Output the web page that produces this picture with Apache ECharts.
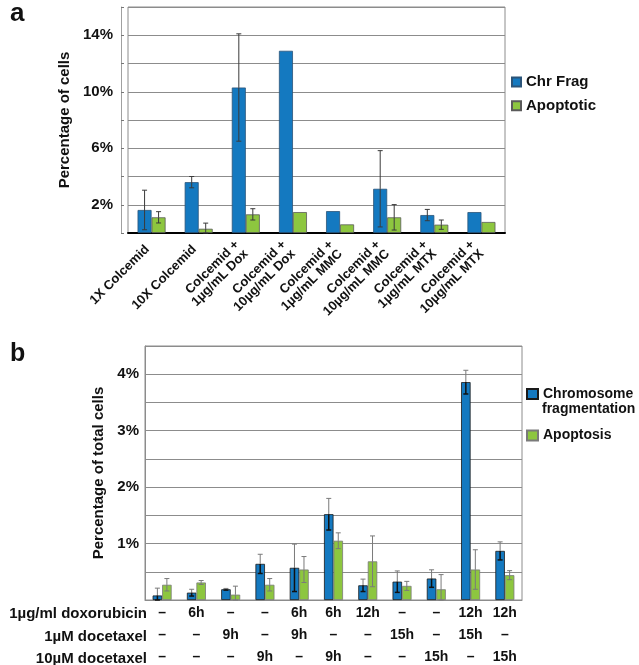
<!DOCTYPE html>
<html>
<head>
<meta charset="utf-8">
<script src="https://cdn.jsdelivr.net/npm/echarts@6/dist/echarts.min.js"></script>
<style>html,body{margin:0;padding:0;background:#fff;}#c{width:639px;height:665px;}</style>
</head>
<body>
<div id="c"></div>
<script>
// ---- Panel a data ----
const catsA = ['1X Colcemid', '10X Colcemid', 'Colcemid +\n1µg/mL Dox', 'Colcemid +\n10µg/mL Dox',
  'Colcemid +\n1µg/mL MMC', 'Colcemid +\n10µg/mL MMC', 'Colcemid +\n1µg/mL MTX', 'Colcemid +\n10µg/mL MTX'];
const chrFrag = [1.63, 3.6, 10.3, 12.9, 1.55, 3.13, 1.27, 1.48];
const chrFragErr = [1.4, 0.4, 3.8, 0, 0, 2.7, 0.4, 0];
const apoptotic = [1.11, 0.3, 1.32, 1.48, 0.61, 1.11, 0.59, 0.78];
const apoptoticErr = [0.4, 0.4, 0.4, 0, 0, 0.9, 0.33, 0];

// ---- Panel b data ----
const doxRow = ['–', '6h', '–', '–', '6h', '6h', '12h', '–', '–', '12h', '12h'];
const doc1Row = ['–', '–', '9h', '–', '9h', '–', '–', '15h', '–', '15h', '–'];
const doc10Row = ['–', '–', '–', '9h', '–', '9h', '–', '–', '15h', '–', '15h'];
const rowLabels = ['1µg/ml doxorubicin', '1µM docetaxel', '10µM docetaxel'];
const chromFrag = [0.08, 0.13, 0.19, 0.64, 0.57, 1.52, 0.26, 0.325, 0.38, 3.86, 0.87];
const chromFragErr = [0.13, 0.06, 0.015, 0.17, 0.42, 0.28, 0.11, 0.19, 0.155, 0.21, 0.16];
const apoptosis = [0.27, 0.31, 0.095, 0.27, 0.54, 1.05, 0.685, 0.25, 0.19, 0.54, 0.44];
const apoptosisErr = [0.11, 0.035, 0.15, 0.11, 0.23, 0.14, 0.45, 0.08, 0.26, 0.35, 0.08];

const FONT = 'Liberation Sans, Arial, sans-serif';
const BLUE = '#1479c0', GREEN = '#8dc63f';
const catsB = doxRow.map((d, i) => String(i));

function errSeries(xi, yi, vals, errs, off, capHalf, upperStyle, lowerStyle) {
  return {
    type: 'custom', xAxisIndex: xi, yAxisIndex: yi, z: 10, silent: true,
    encode: { x: 0, y: 1 },
    data: vals.map((v, i) => [i, v, errs[i]]),
    renderItem: function (params, api) {
      const i = api.value(0), v = api.value(1), e = api.value(2);
      if (!(e > 0)) return null;
      const c = api.coord([i, v]);
      const t = api.coord([i, v + e]);
      const b = api.coord([i, Math.max(0, v - e)]);
      const x = c[0] + off;
      return {
        type: 'group',
        children: [
          { type: 'line', shape: { x1: x, y1: t[1], x2: x, y2: c[1] }, style: upperStyle },
          { type: 'line', shape: { x1: x - capHalf, y1: t[1], x2: x + capHalf, y2: t[1] }, style: upperStyle },
          { type: 'line', shape: { x1: x, y1: c[1], x2: x, y2: b[1] }, style: lowerStyle },
          { type: 'line', shape: { x1: x - capHalf, y1: b[1], x2: x + capHalf, y2: b[1] }, style: lowerStyle }
        ]
      };
    }
  };
}

const chart = echarts.init(document.getElementById('c'), null, { renderer: 'canvas' });
const darkA = { stroke: '#3a3a3a', lineWidth: 1 };
const grayB = { stroke: '#7a7a7a', lineWidth: 1 };
const blackB = { stroke: '#111', lineWidth: 1.5 };

const option = {
  backgroundColor: '#fff',
  animation: false,
  textStyle: { fontFamily: FONT },
  grid: [
    { left: 128, right: 134, top: 7, bottom: 432, show: true, borderColor: '#8c8c8c', borderWidth: 1,
      containLabel: false, outerBoundsMode: 'none' },
    { left: 145, right: 117, top: 346, bottom: 65, show: true, borderColor: '#8c8c8c', borderWidth: 1,
      containLabel: false, outerBoundsMode: 'none' }
  ],
  legend: [
    { data: ['Chr Frag', 'Apoptotic'], orient: 'vertical', left: 511, top: 74.5, padding: 0,
      itemWidth: 9, itemHeight: 9, itemGap: 8.8, icon: 'rect',
      textStyle: { fontFamily: FONT, fontWeight: 'bold', fontSize: 15, color: '#111' } },
    { data: ['Chromosome fragmentation'], orient: 'vertical', left: 526, top: 387, padding: 0,
      itemWidth: 11, itemHeight: 10, icon: 'rect',
      formatter: () => 'Chromosome',
      textStyle: { fontFamily: FONT, fontWeight: 'bold', fontSize: 14, lineHeight: 14, color: '#111' } },
    { data: ['Apoptosis'], orient: 'vertical', left: 526, top: 428.5, padding: 0,
      itemWidth: 11, itemHeight: 10, icon: 'rect',
      textStyle: { fontFamily: FONT, fontWeight: 'bold', fontSize: 14, lineHeight: 14, color: '#111' } }
  ],
  xAxis: [
    { type: 'category', gridIndex: 0, data: catsA,
      axisLine: { lineStyle: { color: '#000', width: 2 } },
      axisTick: { show: false },
      axisLabel: { interval: 0, rotate: 45, margin: 10, padding: [0, 6, 0, 0], fontFamily: FONT, fontWeight: 'bold',
        fontSize: 13, lineHeight: 13, color: '#111' } },
    { type: 'category', gridIndex: 1, data: catsB,
      axisLine: { lineStyle: { color: '#8c8c8c', width: 1 } },
      axisTick: { show: false },
      axisLabel: { interval: 0, margin: 2, fontFamily: FONT, fontWeight: 'bold', fontSize: 14,
        lineHeight: 22, color: '#111',
        formatter: (val, idx) => doxRow[idx] + '\n' + doc1Row[idx] + '\n' + doc10Row[idx] } }
  ],
  yAxis: [
    { type: 'value', gridIndex: 0, min: 0, max: 16, interval: 2, offset: 7,
      name: 'Percentage of cells', nameLocation: 'middle', nameGap: 45,
      nameTextStyle: { fontFamily: FONT, fontWeight: 'bold', fontSize: 15, color: '#111' },
      axisLine: { show: true, lineStyle: { color: '#a0a0a0' } },
      axisTick: { show: true, inside: true, length: 3, lineStyle: { color: '#777' } },
      splitLine: { lineStyle: { color: '#8c8c8c', width: 1 } },
      axisLabel: { margin: 8, fontFamily: FONT, fontWeight: 'bold', fontSize: 15, color: '#111',
        formatter: v => ((v - 2) % 4 === 0 ? v + '%' : '') } },
    { type: 'value', gridIndex: 1, min: 0, max: 4.5, interval: 0.5,
      name: 'Percentage of total cells', nameLocation: 'middle', nameGap: 37,
      nameTextStyle: { fontFamily: FONT, fontWeight: 'bold', fontSize: 15, color: '#111' },
      axisLine: { show: true, lineStyle: { color: '#8c8c8c' } },
      axisTick: { show: false },
      splitLine: { lineStyle: { color: '#8c8c8c', width: 1 } },
      axisLabel: { margin: 6, fontFamily: FONT, fontWeight: 'bold', fontSize: 15, color: '#111',
        formatter: v => (Number.isInteger(v) && v > 0 ? v + '%' : '') } }
  ],
  graphic: [
    { type: 'text', left: 10, top: 1, style: { text: 'a', font: 'bold 26px ' + FONT, fill: '#111' } },
    { type: 'text', left: 10, top: 342, style: { text: 'b', font: 'bold 25px ' + FONT, fill: '#111' } },
    { type: 'text', left: 542, top: 402, style: { text: 'fragmentation', font: 'bold 14px ' + FONT, fill: '#111' } }
  ].concat(rowLabels.map((t, k) => ({
    type: 'text', right: 639 - 147, top: [606, 629, 651][k],
    style: { text: t, font: 'bold 15px ' + FONT, fill: '#111' }
  }))),
  series: [
    { name: 'Chr Frag', type: 'bar', xAxisIndex: 0, yAxisIndex: 0, data: chrFrag, barWidth: 14, barGap: '0%',
      itemStyle: { color: BLUE, borderColor: '#2b5479', borderWidth: 0.8 } },
    { name: 'Apoptotic', type: 'bar', xAxisIndex: 0, yAxisIndex: 0, data: apoptotic, barWidth: 14, barGap: '0%',
      itemStyle: { color: GREEN, borderColor: '#5a5a5a', borderWidth: 0.8 } },
    { name: 'Chromosome fragmentation', type: 'bar', xAxisIndex: 1, yAxisIndex: 1, data: chromFrag, barWidth: 9.5, barGap: '0%',
      itemStyle: { color: BLUE, borderColor: '#1a1a1a', borderWidth: 0.8 } },
    { name: 'Apoptosis', type: 'bar', xAxisIndex: 1, yAxisIndex: 1, data: apoptosis, barWidth: 9.5, barGap: '0%',
      itemStyle: { color: GREEN, borderColor: '#7a7a7a', borderWidth: 0.8 } },
    errSeries(0, 0, chrFrag, chrFragErr, -7, 2.5, darkA, darkA),
    errSeries(0, 0, apoptotic, apoptoticErr, 7, 2.5, darkA, darkA),
    errSeries(1, 1, chromFrag, chromFragErr, -4.75, 2.5, grayB, blackB),
    errSeries(1, 1, apoptosis, apoptosisErr, 4.75, 2.5, grayB, grayB)
  ]
};
chart.setOption(option);
</script>
</body>
</html>
